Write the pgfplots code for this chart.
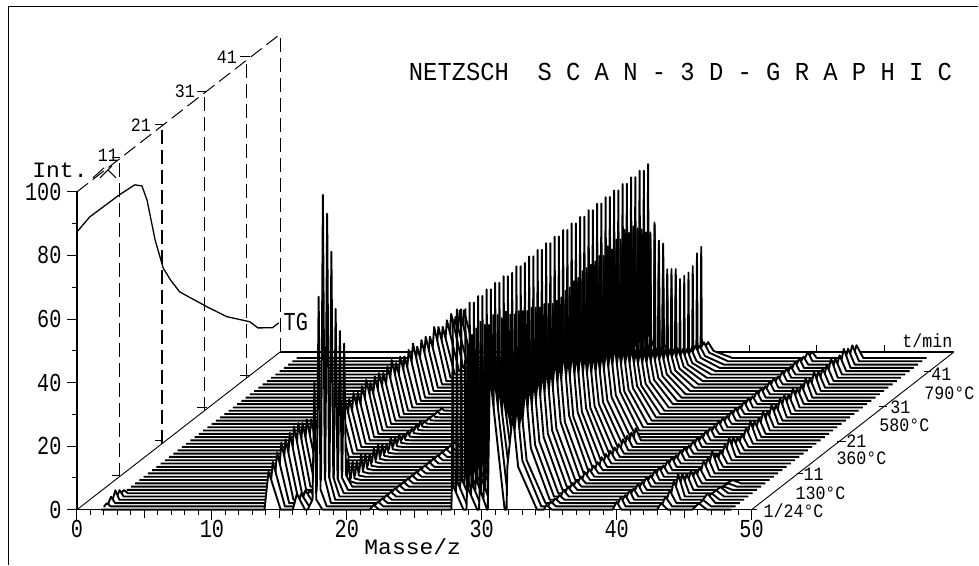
\documentclass[border=0pt]{standalone}
\usepackage{fontspec}
\usepackage{pgfplots}
\usepackage{pgfplotstable}
\pgfplotsset{compat=1.18}
\newfontfamily\fa[FakeStretch=0.78]{Liberation Mono}
\newfontfamily\fb[FakeStretch=0.88]{Liberation Mono}
\newfontfamily\fc[FakeStretch=1.05]{Liberation Mono}
\newfontfamily\fd[FakeStretch=0.92]{Liberation Mono}
\newcommand\tickf{\fa\fontsize{26}{26}\selectfont}
\newcommand\smf{\fb\fontsize{19}{19}\selectfont}
\newcommand\widef{\fc\fontsize{22}{22}\selectfont}
\newcommand\titlef{\fd\fontsize{26}{26}\selectfont}
\pgfplotstableread{
s h2 h14 h16 h18 h22 h28 h29 h30 h31 h32s h32 h35 h40 h43 h46
0 0 12 5 40 1.5 60 52 44 43 0 30 1.5 2.5 2 2
1 1 14 4 66 1.5 62 54 46 42 0 32 1.5 3 3 2
2 2 16 4 97 1.5 61 55 45 38 18 30 1.5 2.5 4 3
3 3 18 3 90 1.5 60 56 46 35 26 36 1.5 3 6 2
4 2 18 3 77 1.5 61 54 44 30 34 36 2 2.5 7 2
5 1 19 2 58 1.5 60 53 43 28 40 36 2 3 6 2
6 0 20 2 50 1.5 61 55 44 26 44 37 2 2.5 5 1
7 0 20 0 45 1.5 60 54 42 24 46 37 2 3 5 1
8 0 19 0 8 1.5 61 52 41 22 48 37 2 2.5 4 1
9 0 19 0 6 1.5 60 53 42 20 47 36 2.5 3 4 0
10 0 18 0 5 1.5 61 51 40 18 50 38 2.5 3 5 0
11 0 17 0 6 1.5 60 50 41 16 49 36 2.5 2.5 5 0
12 0 17 0 5 1.5 61 50 40 14 50 38 2.5 3 6 0
13 0 16 0 4 1.5 60 49 39 12 51 35 3 3 4 0
14 0 16 0 5 1.5 60 48 38 11 50 36 3 2.5 4 0
15 0 15 0 5 1.5 61 48 38 10 52 34 3 3 5 0
16 0 16 0 4 1.5 60 47 37 9 52 34 3 3 6 0
17 0 15 0 3 1.5 60 46 36 8 54 32 3 2.5 5 0
18 0 16 0 4 1.5 61 46 36 8 53 31 3.5 3 4 0
19 0 15 0 3 1.5 60 45 36 7 55 30 3.5 3 4 0
20 0 16 0 3 0 61 44 35 7 56 29 3.5 2.5 5 0
21 0 15 0 2 0 60 44 35 6 55 28 3.8 3 6 0
22 0 16 0 2 0 61 44 34 6 57 28 0 3 5 0
23 0 17 0 2 0 60 45 34 6 56 27 0 2.5 5 0
24 0 15 0 2 0 61 45 35 5 58 27 0 3 6 0
25 0 16 0 2 0 60 46 35 5 56 25 0 3 5 0
26 0 16 0 1 0 61 46 35 5 58 24 0 2.5 6 0
27 0 15 0 1 0 60 47 36 5 57 23 0 3 5 0
28 0 16 0 1 0 61 47 36 5 59 22 0 3 6 0
29 0 17 0 1 0 60 47 36 4 57 20 0 2.5 6 0
30 0 15 0 1 0 61 47 35 4 58 19 0 3 5 0
31 0 16 0 0 0 60 46 36 4 56 18 0 3 6 0
32 0 15 0 0 0 61 46 35 4 55 17 0 2.5 5 0
33 0 16 0 0 0 60 45 34 4 53 16 0 3 5 0
34 0 17 0 0 0 61 46 34 3 52 15 0 3 6 0
35 0 15 0 0 0 60 46 33 3 54 14 0 2.5 5 0
36 0 16 0 0 0 61 46 33 3 45 13 0 3 6 0
37 0 16 0 0 0 60 47 33 3 34 12 0 3 5 0
38 0 15 0 0 0 61 46 32 3 30 11 0 2.5 5 0
39 0 17 0 0 0 60 47 32 3 29 10 0 3 5 0
40 0 16 0 0 0 61 47 31 3 29 9 0 3 6 0
41 0 15 0 0 0 60 44 31 2 30 8 0 2.5 5 0
42 0 16 0 0 0 61 40 30 2 30 7 0 3 5 0
43 0 17 0 0 0 60 42 30 2 30 7 0 3 6 0
44 0 15 0 0 0 61 44 30 2 31 6 0 2.5 5 0
45 0 16 0 0 0 60 38 29 2 34 6 0 3 5 0
46 0 15 0 0 0 61 36 28 2 35 5 0 2 4 0
}\scans
\pgfplotstableread{
s tg
0 87.4
3 89.0
10 88.7
13.6 88.1
15.3 86.0
16.5 80.3
18.4 65.8
20.3 55.0
22 49.5
24.2 43.4
30.6 32.1
35.3 24.1
40.7 16.9
42.6 13.0
46 9.5
47.5 9.5
}\tgdata
\newcommand\ridges{h2/1.9/0.2/0.3/0/0,h14/14.2/0.3/0.9/0/0,h16/16.3/0.3/0.6/0/0,h18/17.6/0.5/0.6/0.14/0.08,h22/22/0.3/0.4/0/0,h28/27.85/0.1/0.8/0.06/0.12,h29/28.97/0.1/0.7/0.06/0.12,h30/29.9/0.1/0.5/0.06/0.12,h31/30.6/0.15/1.1/0/0,h32s/31.79/0.05/0.05/0/0,h32/32.3/0.46/1.8/0.4/0.45,h35/34.8/0.2/0.4/0/0,h40/40/0.3/0.35/0/0,h43/43.3/0.3/0.5/0/0,h46/46.1/0.5/0.6/0/0}
\begin{document}
\begin{tikzpicture}
\begin{scope}[x=1bp,y=-1bp,shift={(-77bp,510bp)}]
\path[use as bounding box] (0,0) rectangle (979,565);
\end{scope}
\begin{axis}[
  at={(0,0)},anchor=south west,
  width=675bp,height=318bp,scale only axis,clip=false,
  xmin=0,xmax=50,ymin=0,ymax=100,
  axis lines=left,axis line style={-,line width=1.3bp},
  xtick={0,10,...,50},ytick={0,20,...,100},
  minor x tick num=9,minor y tick num=1,
  tick align=outside,major tick length=10bp,minor tick length=5bp,
  tick style={black,line width=1bp},
  extra x ticks={5,15,25,35,45},extra x tick labels={},
  extra x tick style={major tick length=8bp},
  /pgf/number format/assume math mode=true,
  ticklabel style={font=\tickf},
  xticklabel style={yshift=3bp},
  yticklabel style={xshift=-2bp},
]
% back and wall
\addplot[black,line width=2bp] coordinates {(15.05,49.6)(65.0,49.6)};
\addplot[black,line width=0.9bp] coordinates {(0,0)(15.05,49.6)};
\addplot[black,line width=0.9bp] coordinates {(50,0)(65,49.6)};
\addplot[black,line width=1bp,dash pattern=on 14bp off 6bp] coordinates {(0,100)(15.05,149.6)};
\addplot[black,line width=1.6bp,dash pattern=on 14bp off 6bp] coordinates {(3.148,10.38)(3.148,110.38)};
\addplot[black,line width=1.6bp,dash pattern=on 14bp off 6bp] coordinates {(6.296,20.75)(6.296,120.75)};
\addplot[black,line width=1bp,dash pattern=on 14bp off 6bp] coordinates {(9.444,31.13)(9.444,131.13)};
\addplot[black,line width=1bp,dash pattern=on 14bp off 6bp] coordinates {(12.59,41.5)(12.59,141.5)};
\addplot[black,line width=1bp,dash pattern=on 14bp off 6bp] coordinates {(15.05,49.6)(15.05,149.6)};
\addplot[black,line width=1.3bp] table[x expr=\thisrow{s}*0.3148,y expr=\thisrow{tg}+\thisrow{s}*1.0377] {\tgdata};
% waterfall, back to front
\foreach \s in {46,45,...,0}{
  \pgfmathsetmacro\bx{0.3148*\s}
  \pgfmathsetmacro\by{1.0377*\s}
  \pgfmathsetmacro\xs{1.8+\bx}
  \xdef\coords{(\xs,\by)}
  \foreach \Rname/\Rm/\Rl/\Rr/\Rw/\Rf in \ridges {
    \pgfplotstablegetelem{\s}{\Rname}\of\scans
    \let\hh\pgfplotsretval
    \ifdim\hh pt>0pt
      \pgfmathsetmacro\xa{\Rm-\Rl+\bx}
      \pgfmathsetmacro\xb{\Rm+\bx}
      \pgfmathsetmacro\xc{\Rm+\Rr+\bx}
      \pgfmathsetmacro\yb{\hh+\by}
      \ifdim\Rf pt>0pt
        \pgfmathsetmacro\xd{\Rm-\Rw+\bx}
        \pgfmathsetmacro\xe{\Rm+\Rw+\bx}
        \pgfmathsetmacro\yd{\hh*\Rf+\by}
        \xdef\coords{\coords (\xa,\by)(\xd,\yd)(\xb,\yb)(\xe,\yd)(\xc,\by)}
      \else
        \xdef\coords{\coords (\xa,\by)(\xb,\yb)(\xc,\by)}
      \fi
    \fi
  }
  \pgfmathsetmacro\xe{48.5+\bx}
  \edef\temp{\noexpand\addplot[black,fill=white,line width=1.9bp,line join=round] coordinates {\coords (\xe,\by)};}
  \temp
}
\addplot[black,line width=1.3bp] coordinates {(-0.74,0)(50.4,0)};
\end{axis}
\begin{scope}[x=1bp,y=-1bp,shift={(-77bp,510bp)},every node/.style={inner sep=0pt,black}]
\draw[line width=1.2bp] (8.5,565) -- (8.5,6.5) -- (979,6.5);
\node[anchor=west,font=\titlef] at (409,72) {NETZSCH~~S~C~A~N~-~3~D~-~G~R~A~P~H~I~C};
\node[anchor=center,font=\widef] at (60,170) {Int.};
\node[anchor=center,font=\smf] at (108,155) {11};
\node[anchor=center,font=\smf] at (141,125) {21};
\node[anchor=center,font=\smf] at (185,91) {31};
\node[anchor=center,font=\smf] at (227,57) {41};
\node[anchor=center,font=\tickf] at (296,322) {TG};
\node[anchor=center,font=\widef] at (413,547) {Masse/z};
\node[anchor=center,font=\smf] at (928,341) {t/min};
\node[anchor=center,font=\smf] at (942,375) {41};
\node[anchor=center,font=\smf] at (950,394) {790°C};
\node[anchor=center,font=\smf] at (901,408) {31};
\node[anchor=center,font=\smf] at (905,426) {580°C};
\node[anchor=center,font=\smf] at (857,441) {21};
\node[anchor=center,font=\smf] at (862,459) {360°C};
\node[anchor=center,font=\smf] at (814,475) {11};
\node[anchor=center,font=\smf] at (821,494) {130°C};
\node[anchor=center,font=\smf] at (794,511) {1/24°C};
\foreach \a/\b/\c in {112/120/158,155/163/125,197/207/92,240/250/57,112/120/475.6,155/163/441,197/207/408,240/250/376,925/932/372,880/888/407,838/847/442,797/803/474}
  \draw[line width=1bp] (\a,\c) -- (\b,\c);
\foreach \a in {750,817,885}
  \draw[line width=1bp] (\a,352) -- (\a,345);
\draw[line width=1bp] (93,178) -- (104,168) (100,178) -- (112,166) (108,170) -- (116,178);
\end{scope}
\end{tikzpicture}
\end{document}
